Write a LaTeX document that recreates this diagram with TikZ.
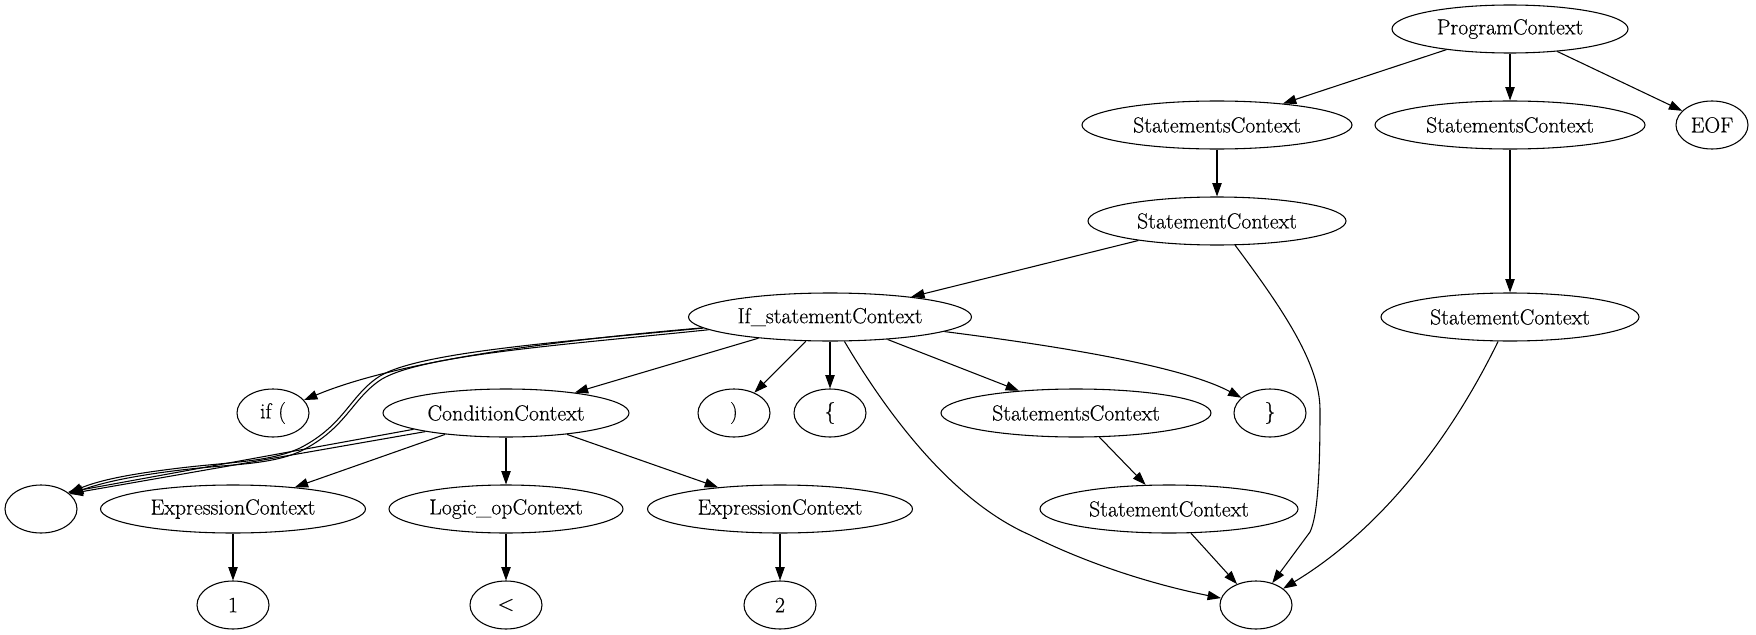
\documentclass[tikz,border=0pt]{standalone}
\usepackage{fontspec}
\setmainfont{Latin Modern Roman}[FakeBold=0.35]
\usetikzlibrary{shapes.geometric,arrows.meta}
\begin{document}
\begin{tikzpicture}[x=0.75pt,y=-0.75pt,
  nd/.style={ellipse,draw,line width=0.8pt,inner sep=0pt,minimum height=36pt,minimum width=#1*0.75pt,font=\fontsize{16.4}{19.7}\selectfont},
  nd/.default=72,
  edge/.style={draw,line width=0.8pt,-{Triangle[length=10pt,width=7pt]}}]
\useasboundingbox (0,0) rectangle (1756,635);
% nodes
\node[nd=236] (pc) at (1510,29) {ProgramContext};
\node[nd=270] (ssL) at (1217,125) {StatementsContext};
\node[nd=270] (ssR) at (1510,125) {StatementsContext};
\node[nd] (eof) at (1712,125) {EOF};
\node[nd=258] (st1) at (1217,221) {StatementContext};
\node[nd=283] (ifs) at (830,317) {If\_statementContext};
\node[nd=258] (st2) at (1510,317) {StatementContext};
\node[nd] (ifp) at (273,413) {if (};
\node[nd=246] (cond) at (506,413) {ConditionContext};
\node[nd] (rp) at (734,413) {)};
\node[nd] (lb) at (830,413) {\{};
\node[nd=270] (ss3) at (1076,413) {StatementsContext};
\node[nd] (rb) at (1270,413) {\}};
\node[nd] (e1) at (41,509) {};
\node[nd=265] (ex1) at (233,509) {ExpressionContext};
\node[nd=234] (lo) at (506,509) {Logic\_opContext};
\node[nd=265] (ex2) at (780,509) {ExpressionContext};
\node[nd=258] (st3) at (1169,509) {StatementContext};
\node[nd] (one) at (233,605) {1};
\node[nd] (lt) at (506,605) {<};
\node[nd] (two) at (780,605) {2};
\node[nd] (e2) at (1256,605) {};
% edges
\draw[edge] (pc.198.7) -- (ssL.18.4);
\draw[edge] (pc) -- (ssR);
\draw[edge] (pc) -- (eof);
\draw[edge] (ssL) -- (st1);
\draw[edge] (ssR) -- (st2);
\draw[edge] (st1) -- (ifs);
\draw[edge] (st1) .. controls (1285,312) and (1320,365) .. (1320,410) .. controls (1320,470) and (1318,515) .. (1310,532) -- (e2);
\draw[edge] (st2) .. controls (1450,440) and (1380,530) .. (e2);
\draw[edge] (ifs) .. controls (560,340) and (400,360) .. (ifp);
\draw[edge] (ifs.185) .. controls (560,342) and (420,352) .. (380,376) .. controls (350,395) and (345,425) .. (300,448) .. controls (270,462) and (230,462) .. (180,468) .. controls (130,474) and (100,480) .. (e1.30);
\draw[edge] (ifs.186.5) .. controls (561,345) and (423,355) .. (382,379) .. controls (352,398) and (347,428) .. (301,451) .. controls (271,465) and (231,464) .. (181,470) .. controls (131,476) and (101,483) .. (e1.27);
\draw[edge] (ifs) -- (cond);
\draw[edge] (ifs) -- (rp);
\draw[edge] (ifs) -- (lb);
\draw[edge] (ifs) .. controls (885,410) and (950,500) .. (1030,535) .. controls (1100,570) and (1170,588) .. (e2);
\draw[edge] (ifs) -- (ss3);
\draw[edge] (ifs) .. controls (1050,345) and (1180,365) .. (rb);
\draw[edge] (cond.190) -- (e1.32);
\draw[edge] (cond.193) -- (e1.28);
\draw[edge] (cond) -- (ex1);
\draw[edge] (cond) -- (lo);
\draw[edge] (cond) -- (ex2);
\draw[edge] (ex1) -- (one);
\draw[edge] (lo) -- (lt);
\draw[edge] (ex2) -- (two);
\draw[edge] (ss3) -- (st3);
\draw[edge] (st3) -- (e2);
\end{tikzpicture}
\end{document}
